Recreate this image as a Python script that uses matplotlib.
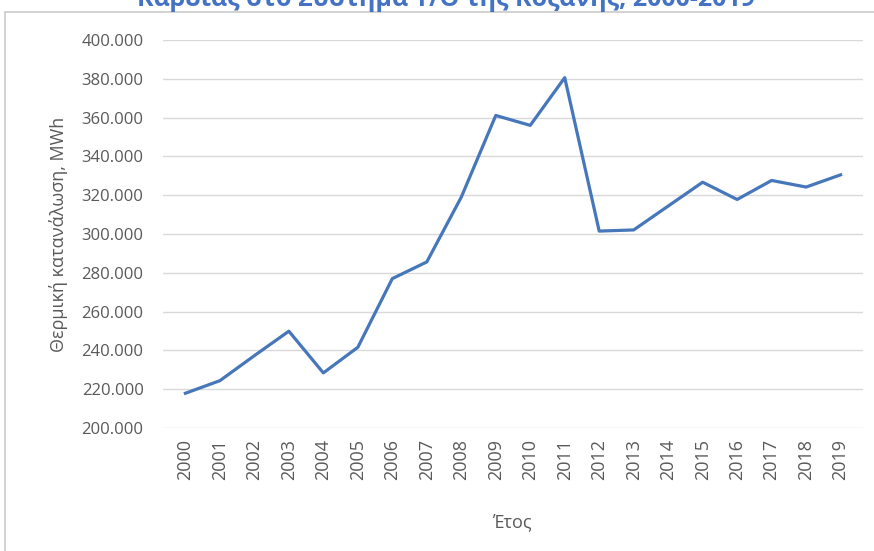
import matplotlib
matplotlib.use('Agg')
import matplotlib.pyplot as plt
from matplotlib.patches import Rectangle
from matplotlib.ticker import FuncFormatter

plt.rcParams['font.family'] = ['Open Sans', 'DejaVu Sans']

# thermal consumption per year, MWh
years = ['2000', '2001', '2002', '2003', '2004', '2005', '2006', '2007', '2008', '2009',
         '2010', '2011', '2012', '2013', '2014', '2015', '2016', '2017', '2018', '2019']
consumption = [217900, 224400, 237300, 249900, 228400, 241600, 277000, 285600, 319000, 361100,
               356000, 380600, 301500, 302100, 314400, 326700, 317800, 327600, 324200, 330500]

title = 'Καρδιάς στο Σύστημα Τ/Θ της Κοζάνης, 2000-2019'
xlabel = 'Έτος'
ylabel = 'Θερμική κατανάλωση, MWh'

grey = '#595959'
blue = '#4677BA'

fig = plt.figure(figsize=(8.74, 5.51), dpi=100)

# chart area border (Excel style)
fig.patches.append(Rectangle((5 / 874, -0.01), 2, 1 - 12 / 551 + 0.01, transform=fig.transFigure,
                             fill=False, edgecolor='#cfcfcf', linewidth=1.3))

ax = fig.add_axes([163 / 874, 1 - 428 / 551, 700 / 874, 388 / 551])

x = list(range(len(years)))
ax.plot(x, consumption, color=blue, linewidth=2.3, solid_joinstyle='round', zorder=3)

ax.set_xlim(-0.65, len(years) - 0.35)
ax.set_ylim(200000, 400000)
ax.set_yticks(range(200000, 400001, 20000))
ax.yaxis.set_major_formatter(FuncFormatter(lambda v, p: '{:,.0f}'.format(v).replace(',', '.')))
ax.set_xticks(x)
ax.set_xticklabels(years, rotation=90)

ax.grid(True, axis='y', color='#d9d9d9', linewidth=1.0)
for s in ax.spines.values():
    s.set_visible(False)
ax.tick_params(axis='y', length=0, colors=grey, labelsize=12, pad=14)
ax.tick_params(axis='x', length=0, colors=grey, labelsize=13, pad=8)

ax.set_xlabel(xlabel, color=grey, fontsize=13, labelpad=24)
ax.set_ylabel(ylabel, color=grey, fontsize=13, labelpad=10)

fig.text(446 / 874, 1 - 6 / 551, title, ha='center', va='baseline', color='#4472C4',
         fontsize=18, fontweight='bold')

fig.savefig('out.png', dpi=100)
